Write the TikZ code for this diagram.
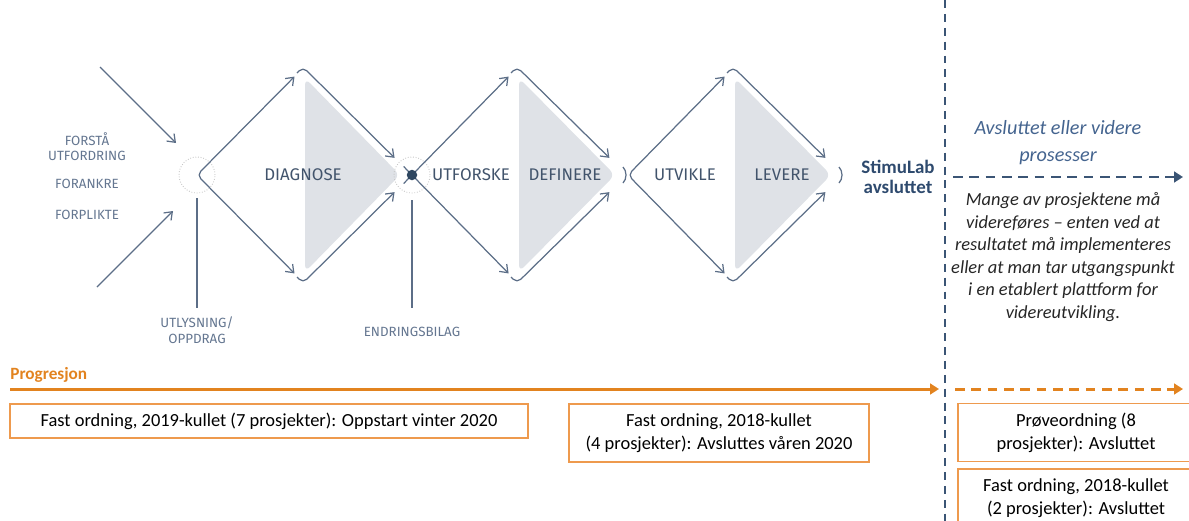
\documentclass[tikz,border=0pt]{standalone}
\usepackage{fontspec}
\setmainfont{Carlito}
\newfontfamily\labfont{Fira Sans}
\usetikzlibrary{arrows.meta,calc}
\definecolor{dline}{HTML}{5C6E87}
\definecolor{smalltxt}{HTML}{647690}
\definecolor{bigtxt}{HTML}{42546C}
\definecolor{dotc}{HTML}{2E4660}
\definecolor{trif}{HTML}{DFE2E7}
\definecolor{navy}{HTML}{2E4A6E}
\definecolor{vdash}{HTML}{3B5575}
\definecolor{itblue}{HTML}{44648F}
\definecolor{orng}{HTML}{E2831F}
\definecolor{obox}{HTML}{EE9A4E}
\tikzset{
  dl/.style={draw=dline, line width=0.7pt},
  tipv/.style={-{Straight Barb[length=4pt,width=6pt]}},
  tipvv/.style={{Straight Barb[length=4pt,width=6pt]}-{Straight Barb[length=4pt,width=6pt]}},
  tri/.style={fill=trif, rounded corners=4pt},
  dotring/.style={draw=gray!45, densely dotted, line width=0.5pt},
  smalllab/.style={font=\labfont\fontsize{7.6}{8.4}\selectfont, text=smalltxt, align=center, inner sep=0pt},
  biglab/.style={font=\labfont\fontsize{9.6}{11}\selectfont, text=bigtxt, inner sep=0pt},
  boxlab/.style={draw=obox, line width=0.9pt, font=\fontsize{10.5}{13}\selectfont, align=center, inner sep=0pt}
}
\begin{document}
\begin{tikzpicture}[x=0.2mm,y=-0.2mm]
\useasboundingbox (0,0) rectangle (1189,520);

% gray triangles
\fill[tri] (305,78) -- (400,175) -- (305,272) -- cycle;
\fill[tri] (519,78) -- (615,175) -- (519,272) -- cycle;
\fill[tri] (735,78) -- (831,175) -- (735,272) -- cycle;

% key points
\coordinate (L1) at (197,175); \coordinate (T1) at (303,68); \coordinate (B1) at (303,282); \coordinate (R1) at (412,175);
\coordinate (L2) at (412,175); \coordinate (T2) at (517,68); \coordinate (B2) at (517,282); \coordinate (R2) at (627,175);
\coordinate (L3) at (628,175); \coordinate (T3) at (733,68); \coordinate (B3) at (733,282); \coordinate (R3) at (843,175);

% dotted rings
\draw[dotring] (L1) circle[radius=3.6mm];
\draw[dotring] (L2) circle[radius=3.6mm];

% diamond 1
\draw[dl, tipvv, rounded corners=3pt] ($(L1)!0.92!(T1)$) -- (L1) -- ($(L1)!0.92!(B1)$);
\draw[dl, tipv, rounded corners=3pt] ($(T1)+(-6,5)$) -- ($(T1)+(0,-1)$) -- ($(T1)!0.84!(R1)$);
\draw[dl, tipv, rounded corners=3pt] ($(B1)+(-6,-5)$) -- ($(B1)+(0,1)$) -- ($(B1)!0.84!(R1)$);

% diamond 2 (crossing at the dot)
\draw[dl, tipv] ($(L2)!-0.08!(T2)$) -- ($(L2)!0.92!(T2)$);
\draw[dl, tipv] ($(L2)!-0.08!(B2)$) -- ($(L2)!0.92!(B2)$);
\draw[dl, tipv, rounded corners=3pt] ($(T2)+(-6,5)$) -- ($(T2)+(0,-1)$) -- ($(T2)!0.84!(R2)$);
\draw[dl, tipv, rounded corners=3pt] ($(B2)+(-6,-5)$) -- ($(B2)+(0,1)$) -- ($(B2)!0.84!(R2)$);
\draw[dl] (623,167) .. controls (627,171) and (627,179) .. (623,183);

% diamond 3
\draw[dl, tipvv, rounded corners=3pt] ($(L3)!0.92!(T3)$) -- (L3) -- ($(L3)!0.92!(B3)$);
\draw[dl, tipv, rounded corners=3pt] ($(T3)+(-6,5)$) -- ($(T3)+(0,-1)$) -- ($(T3)!0.84!(R3)$);
\draw[dl, tipv, rounded corners=3pt] ($(B3)+(-6,-5)$) -- ($(B3)+(0,1)$) -- ($(B3)!0.84!(R3)$);
\draw[dl] (839,167) .. controls (843,171) and (843,179) .. (839,183);

% dot
\fill[dotc] (L2) circle[radius=1.05mm];

% incoming arrows
\coordinate (inA) at (100,67); \coordinate (inAe) at (176,143);
\coordinate (inB) at (97,287); \coordinate (inBe) at (173,211);
\draw[dl, tipv] (inA) -- (inAe);
\draw[dl, tipv] (inB) -- (inBe);

% vertical marker lines
\coordinate (v1a) at (197,198); \coordinate (v1b) at (197,308);
\coordinate (v2a) at (412,200); \coordinate (v2b) at (412,308);
\draw[dl] (v1a) -- (v1b);
\draw[dl] (v2a) -- (v2b);

% small labels
\node[smalllab] (forsta) at (87,147) {FORSTÅ\\UTFORDRING};
\node[smalllab] (forankre) at (87,184) {FORANKRE};
\node[smalllab] (forplikte) at (87,215) {FORPLIKTE};
\node[smalllab, font=\labfont\fontsize{7.6}{8.8}\selectfont] (utlys) at (197,330) {UTLYSNING/\\OPPDRAG};
\node[smalllab] (endr) at (412,332) {ENDRINGSBILAG};

% phase labels
\node[biglab] (diag) at (303,175) {DIAGNOSE};
\node[biglab] (utfor) at (471,175) {UTFORSKE};
\node[biglab] (defin) at (565,175) {DEFINERE};
\node[biglab] (utvik) at (685,175) {UTVIKLE};
\node[biglab] (lever) at (782,175) {LEVERE};

% StimuLab
\node[font=\bfseries\fontsize{10.8}{11.8}\selectfont, text=navy, align=center, inner sep=0pt] (stim) at (898,177) {StimuLab\\avsluttet};

% vertical dashed separator
\coordinate (sepT) at (945,0); \coordinate (sepB) at (945,522);
\draw[vdash, line width=1.4pt, dash pattern=on 4.5pt off 3.4pt] (sepT) -- (sepB);

% right side
\node[font=\itshape\fontsize{11.5}{15.3}\selectfont, text=itblue, align=center, inner sep=0pt] (avsl) at (1058,143) {Avsluttet eller videre\\prosesser};
\coordinate (bdA) at (953,177); \coordinate (bdB) at (1183,177);
\draw[vdash, line width=1.7pt, dash pattern=on 5.5pt off 3.8pt, -{Triangle[length=5pt,width=6pt]}] (bdA) -- (bdB);
\node[font=\itshape\fontsize{10.5}{12.8}\selectfont, text=black!85, align=center, inner sep=0pt] (mange) at (1063,257) {Mange av prosjektene må\\videreføres – enten ved at\\resultatet må implementeres\\eller at man tar utgangspunkt\\i en etablert plattform for\\videreutvikling.};

% progression
\node[font=\bfseries\fontsize{9.8}{11}\selectfont, text=orng, anchor=west, inner sep=0pt] (prog) at (10,375) {Progresjon};
\coordinate (pA) at (10,389); \coordinate (pB) at (939,389);
\draw[orng, line width=1.7pt, -{Triangle[length=5pt,width=6pt]}] (pA) -- (pB);
\coordinate (pdA) at (955,389); \coordinate (pdB) at (1183,389);
\draw[orng, line width=1.7pt, dash pattern=on 5.5pt off 3.8pt, -{Triangle[length=5pt,width=6pt]}] (pdA) -- (pdB);

% boxes
\node[boxlab, minimum width=103.6mm, minimum height=6.8mm] (b1) at (269,421) {Fast ordning, 2019-kullet (7 prosjekter): Oppstart vinter 2020};
\node[boxlab, minimum width=60mm, minimum height=11.6mm] (b2) at (719,433) {Fast ordning, 2018-kullet\\(4 prosjekter): Avsluttes våren 2020};
\node[boxlab, minimum width=47.2mm, minimum height=11.6mm] (b3) at (1076,432.5) {Prøveordning (8\\prosjekter): Avsluttet};
\node[boxlab, minimum width=47.2mm, minimum height=11.6mm] (b4) at (1076,498) {Fast ordning, 2018-kullet\\(2 prosjekter): Avsluttet};
\end{tikzpicture}
\end{document}
